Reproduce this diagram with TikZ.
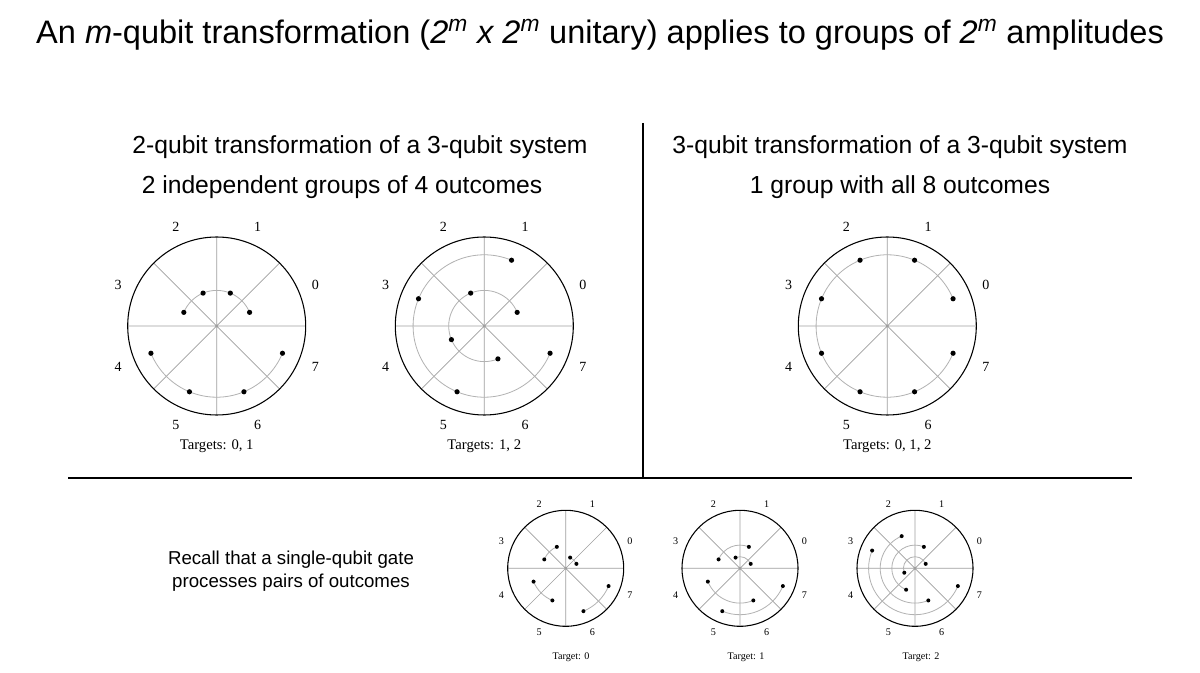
\documentclass[tikz,border=0pt]{standalone}
\usepackage{fontspec}
\setmainfont{Liberation Sans}
\newfontfamily\tms{Liberation Serif}
\newcommand\wheel[6]{%
\begin{scope}[shift={(#1,#2)},yscale=-1]
\def\R{#3}\def\dr{#5}
\draw[gray!75, line width=0.5pt] (-\R,0)--(\R,0) (0,-\R)--(0,\R) (135:\R)--(-45:\R) (45:\R)--(225:\R);
\draw[line width=0.8pt] (0,0) circle[radius=\R];
\foreach \k in {0,...,7} \node[font=\tms#4] at ({22.5+45*\k}:{1.2*\R}) {\k};
#6
\end{scope}}
\newcommand\grp[4]{%
\draw[gray!60, line width=0.6pt] ({22.5+45*#2}:{#1*\R}) arc[start angle={22.5+45*#2}, end angle={22.5+45*#3}, radius={#1*\R}];
\foreach \d in {#4} \fill ({22.5+45*\d}:{#1*\R}) circle[radius=\dr];}
\begin{document}
\begin{tikzpicture}[x=0.75pt,y=-0.75pt]
\useasboundingbox (0,0) rectangle (1200,673);
\fill[white] (0,0) rectangle (1200,673);
\node[font=\fontsize{24.4}{28}\selectfont] (title) at (600,35) {An \textit{m}-qubit transformation (\textit{2\textsuperscript{m} x 2\textsuperscript{m}} unitary) applies to groups of \textit{2\textsuperscript{m}} amplitudes};
\tikzset{sect/.style={font=\fontsize{18.5}{22}\selectfont}}
\node[sect] (l1) at (360,147) {2-qubit transformation of a 3-qubit system};
\node[sect] (l2) at (342,187) {2 independent groups of 4 outcomes};
\node[sect] (r1) at (900,147) {3-qubit transformation of a 3-qubit system};
\node[sect] (r2) at (900,187) {1 group with all 8 outcomes};
\draw[line width=0.8pt] (643,123) -- (643,478);
\draw[line width=0.8pt] (68,478) -- (1132,478);
\node[font=\fontsize{14}{17}\selectfont, align=center] (recall) at (291,571) {Recall that a single-qubit gate\\processes pairs of outcomes};
% top wheels
\wheel{216.7}{326}{89}{\fontsize{10.5}{12}\selectfont}{2.6}{\grp{0.4}{0}{3}{0,1,2,3}\grp{0.8}{4}{7}{4,5,6,7}}
\wheel{484.3}{326}{89}{\fontsize{10.5}{12}\selectfont}{2.6}{\grp{0.4}{0}{6}{0,2,4,6}\grp{0.8}{1}{7}{1,3,5,7}}
\wheel{887.3}{326}{89}{\fontsize{10.5}{12}\selectfont}{2.6}{\grp{0.8}{0}{7}{0,1,2,3,4,5,6,7}}
\tikzset{tg/.style={font=\tms\fontsize{11}{13}\selectfont}}
\node[tg] (t1) at (216.7,446) {Targets: 0, 1};
\node[tg] (t2) at (484.3,446) {Targets: 1, 2};
\node[tg] (t3) at (887.3,446) {Targets: 0, 1, 2};
% bottom wheels
\wheel{565.7}{568.3}{58}{\fontsize{7.6}{9}\selectfont}{2}{\grp{0.2}{0}{1}{0,1}\grp{0.4}{2}{3}{2,3}\grp{0.6}{4}{5}{4,5}\grp{0.8}{6}{7}{6,7}}
\wheel{740}{568.3}{58}{\fontsize{7.6}{9}\selectfont}{2}{\grp{0.2}{0}{2}{0,2}\grp{0.4}{1}{3}{1,3}\grp{0.6}{4}{6}{4,6}\grp{0.8}{5}{7}{5,7}}
\wheel{915}{568.3}{58}{\fontsize{7.6}{9}\selectfont}{2}{\grp{0.2}{0}{4}{0,4}\grp{0.4}{1}{5}{1,5}\grp{0.6}{2}{6}{2,6}\grp{0.8}{3}{7}{3,7}}
\tikzset{tb/.style={font=\tms\fontsize{7.6}{9}\selectfont}}
\node[tb] (b1) at (571,657) {Target: 0};
\node[tb] (b2) at (746,657) {Target: 1};
\node[tb] (b3) at (921,657) {Target: 2};
\end{tikzpicture}
\end{document}
